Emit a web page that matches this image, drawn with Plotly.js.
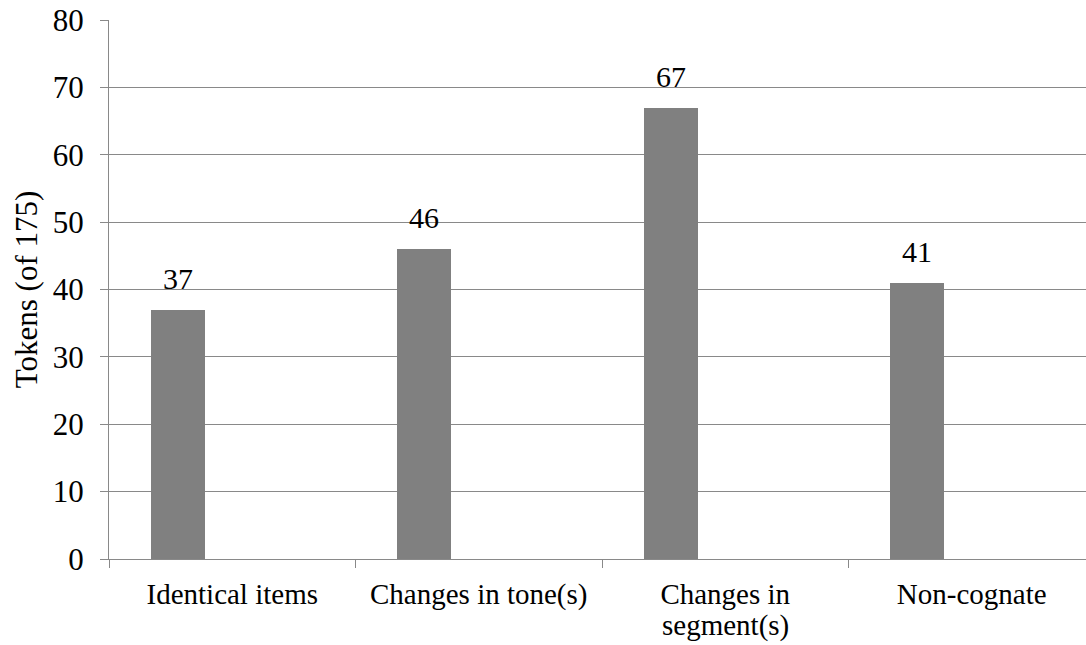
<!DOCTYPE html>
<html>
<head>
<meta charset="utf-8">
<script src="https://cdn.plot.ly/plotly-3.0.1.min.js"></script>
<style>
  html, body { margin: 0; padding: 0; background: #ffffff; }
  #chart { width: 1086px; height: 645px; }
</style>
</head>
<body>
<div id="chart"></div>
<script>
// Token counts per change type
const categories = ['Identical items', 'Changes in tone(s)', 'Changes in segment(s)', 'Non-cognate'];
const tickLines1 = ['Identical items', 'Changes in tone(s)', 'Changes in', 'Non-cognate'];
const tickLines2 = ['', '', 'segment(s)', ''];
const tokens = [37, 46, 67, 41];
const yTicks = [0, 10, 20, 30, 40, 50, 60, 70, 80];

const FONT = '"Liberation Serif", "Times New Roman", serif';
const GRID = '#898989';

// bar sits in the first third of each category slot
const barWidth = 0.219;
const barOffset = -0.33;

const trace = {
  type: 'bar',
  x: categories,
  y: tokens,
  width: barWidth,
  offset: barOffset,
  marker: { color: '#808080', line: { width: 0 } },
  hoverinfo: 'skip',
  showlegend: false
};

const annotations = [];
tokens.forEach((v, i) => {
  annotations.push({
    xref: 'x', yref: 'y',
    x: i + barOffset + barWidth / 2, y: v,
    text: String(v),
    showarrow: false,
    xanchor: 'center', yanchor: 'bottom',
    yshift: 13,
    font: { family: FONT, size: 30, color: '#000000' }
  });
});
// second line of the wrapped category label
tickLines2.forEach((t, i) => {
  if (!t) return;
  annotations.push({
    xref: 'x', yref: 'paper',
    x: i, y: 0,
    text: t,
    showarrow: false,
    xanchor: 'center', yanchor: 'top',
    yshift: -48,
    font: { family: FONT, size: 29, color: '#000000' }
  });
});

const layout = {
  width: 1086,
  height: 645,
  margin: { l: 109, r: 0, t: 20, b: 86, pad: 0 },
  paper_bgcolor: '#ffffff',
  plot_bgcolor: '#ffffff',
  bargap: 0,
  xaxis: {
    type: 'category',
    categoryorder: 'array',
    categoryarray: categories,
    range: [-0.5, 3.4635],
    tickmode: 'array',
    tickvals: categories,
    ticktext: tickLines1,
    tickson: 'boundaries',
    ticks: 'outside',
    ticklen: 8,
    tickcolor: GRID,
    tickwidth: 1,
    showgrid: false,
    showline: true,
    linecolor: GRID,
    linewidth: 1,
    zeroline: false,
    ticklabelstandoff: 9,
    tickfont: { family: FONT, size: 29, color: '#000000' },
    fixedrange: true
  },
  yaxis: {
    range: [0, 80],
    tickmode: 'array',
    tickvals: yTicks,
    ticks: 'outside',
    ticklen: 8,
    tickcolor: GRID,
    tickwidth: 1,
    showgrid: true,
    gridcolor: GRID,
    gridwidth: 1,
    showline: true,
    linecolor: GRID,
    linewidth: 1,
    zeroline: false,
    ticklabelstandoff: 10,
    tickfont: { family: FONT, size: 31, color: '#000000' },
    title: {
      text: 'Tokens (of 175)',
      font: { family: FONT, size: 31, color: '#000000' },
      standoff: 5
    },
    fixedrange: true
  },
  annotations: annotations
};

Plotly.newPlot('chart', [trace], layout, { displayModeBar: false, staticPlot: true });
</script>
</body>
</html>
